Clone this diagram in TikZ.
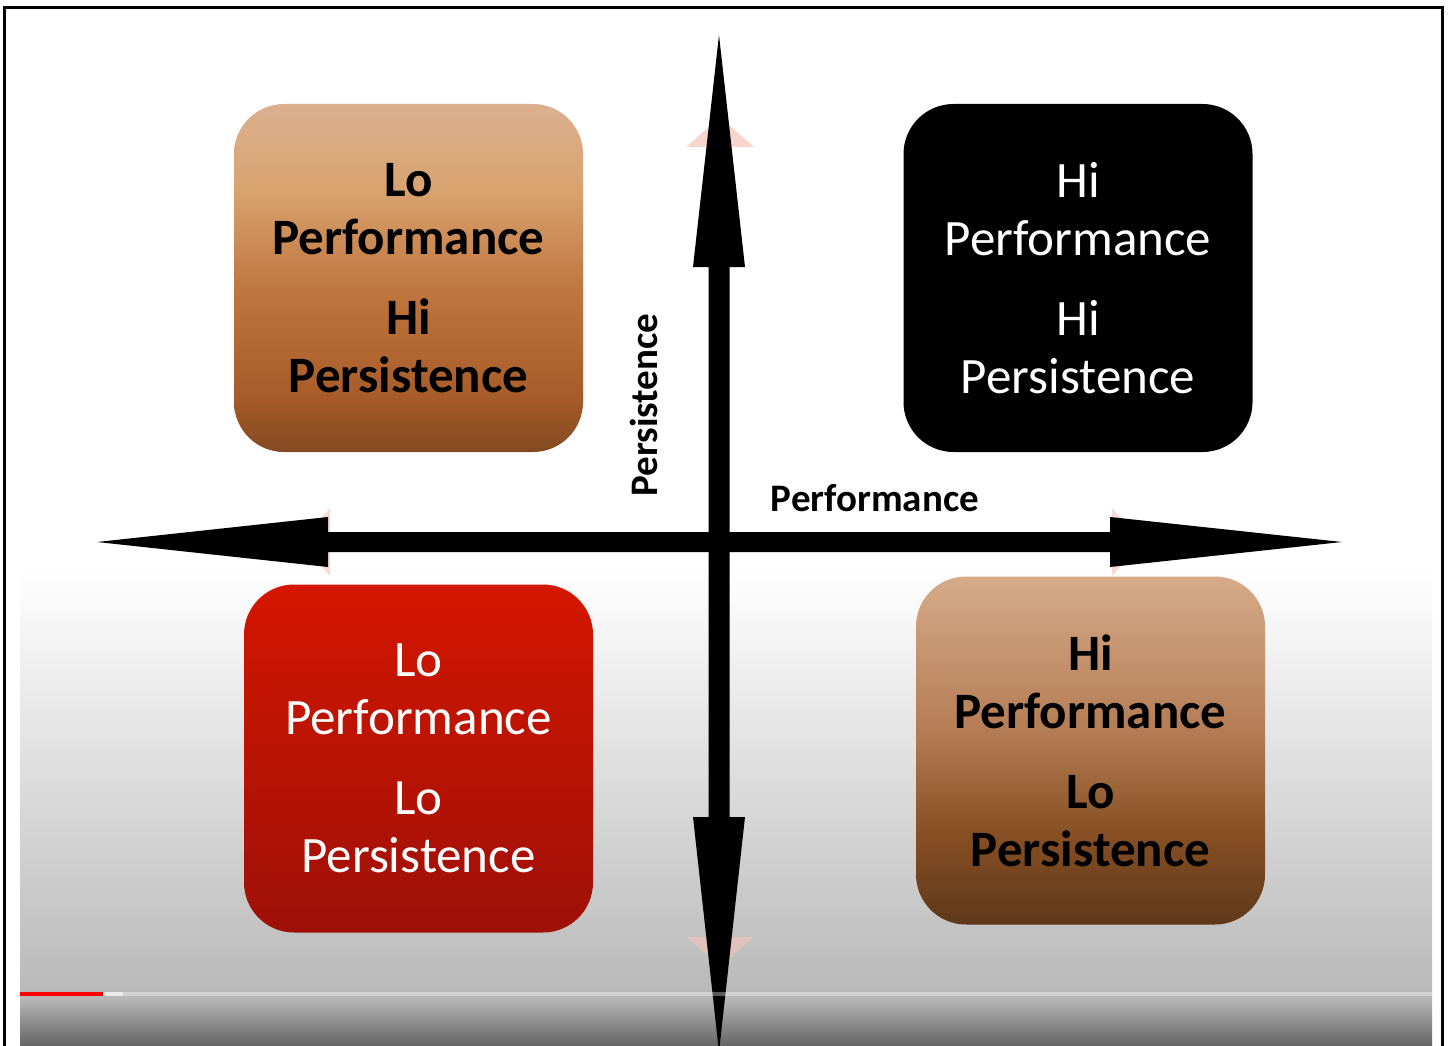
\documentclass[tikz,border=0pt]{standalone}
\usepackage{fontspec}
\setmainfont{Carlito}
\usetikzlibrary{positioning,shapes,calc}
\definecolor{redTop}{RGB}{212,22,0}
\definecolor{redBot}{RGB}{158,16,8}
\definecolor{ghost}{RGB}{246,196,184}
\pgfdeclareverticalshading{tanshade}{100bp}{rgb(0bp)=(0.51,0.29,0.13); rgb(25bp)=(0.51,0.29,0.13);
  rgb(33bp)=(0.66,0.36,0.16); rgb(48bp)=(0.75,0.46,0.24); rgb(63bp)=(0.85,0.64,0.44);
  rgb(75bp)=(0.86,0.69,0.56); rgb(100bp)=(0.86,0.69,0.56)}
\pgfdeclareverticalshading{brownshade}{100bp}{rgb(0bp)=(0.37,0.22,0.10); rgb(25bp)=(0.37,0.22,0.10);
  rgb(38bp)=(0.53,0.31,0.14); rgb(52bp)=(0.70,0.48,0.32); rgb(75bp)=(0.84,0.67,0.54);
  rgb(100bp)=(0.84,0.67,0.54)}
\tikzset{
  quad/.style={rounded corners=50pt, minimum width=349pt, minimum height=348pt, inner sep=0pt},
  quadtext/.style={align=center, font=\fontsize{51}{58}\selectfont},
  axislabel/.style={font=\fontsize{39}{44}\selectfont\bfseries},
}
\begin{document}
\begin{tikzpicture}[x=1pt,y=-1pt]
      \useasboundingbox (0,0) rectangle (1448,1046);
      \fill[white] (0,0) rectangle (1448,1046);
      % background of the video frame
      \shade[top color=white, bottom color={rgb,255:red,184;green,184;blue,184}] (20,570) rectangle (1432,998);
      \shade[top color={rgb,255:red,184;green,184;blue,184}, bottom color={rgb,255:red,100;green,100;blue,100}] (20,998) rectangle (1432,1046);
      % ghost arrow heads
      \fill[ghost, opacity=0.7] (686,147) -- (754,147) -- (720,117) -- cycle;
      \fill[ghost, opacity=0.6] (687,937) -- (753,937) -- (720,967) -- cycle;
      \fill[ghost, opacity=0.6] (330,508) -- (330,576) -- (300,542) -- cycle;
      \fill[ghost, opacity=0.6] (1112,508) -- (1112,576) -- (1142,542) -- cycle;
      % axes
      \coordinate (ptop) at (719,35);
      \coordinate (pbot) at (719,1052);
      \coordinate (pleft) at (97,542);
      \coordinate (pright) at (1342,542);
      \fill (ptop) -- (745,267) -- (729.5,267) -- (729.5,817) -- (745,817) -- (pbot)
        -- (693,817) -- (708.5,817) -- (708.5,267) -- (693,267) -- cycle;
      \fill (pleft) -- (328,517) -- (328,532) -- (1110,532) -- (1110,517) -- (pright)
        -- (1110,567) -- (1110,552) -- (328,552) -- (328,567) -- cycle;
      % progress bar
      \fill[white, opacity=0.35] (20,991.5) rectangle (1432,996);
      \fill[red] (20,991.5) rectangle (103,996);
      \fill[white, opacity=0.6] (103,991.5) rectangle (123,996);
      % quadrants
      \node[quad, shading=tanshade] at (408.5,278) (lohi) {};
      \node[quad, fill=black] at (1078,278) (hihi) {};
      \node[quad, top color=redTop, bottom color=redBot] at (418.5,758.5) (lolo) {};
      \node[quad, shading=brownshade] at (1090.5,750.5) (hilo) {};
      \node[quadtext, font=\fontsize{51}{58}\selectfont\bfseries] at (lohi.center) (lohitext) {Lo\\Performance\\[22pt]Hi\\Persistence};
      \node[quadtext, text=white] at (hihi.center) (hihitext) {Hi\\Performance\\[22pt]Hi\\Persistence};
      \node[quadtext, text=white] at (lolo.center) (lolotext) {Lo\\Performance\\[22pt]Lo\\Persistence};
      \node[quadtext, font=\fontsize{51}{58}\selectfont\bfseries] at (hilo.center) (hilotext) {Hi\\Performance\\[22pt]Lo\\Persistence};
      % axis labels
      \node[axislabel, rotate=90] at (644,405) (perslabel) {Persistence};
      \node[axislabel] at (875,498) (perflabel) {Performance};
      % frame
      \draw[line width=3pt] (4.5,1050) -- (4.5,7.5) -- (1442.5,7.5) -- (1442.5,1050);
    \end{tikzpicture}
\end{document}
